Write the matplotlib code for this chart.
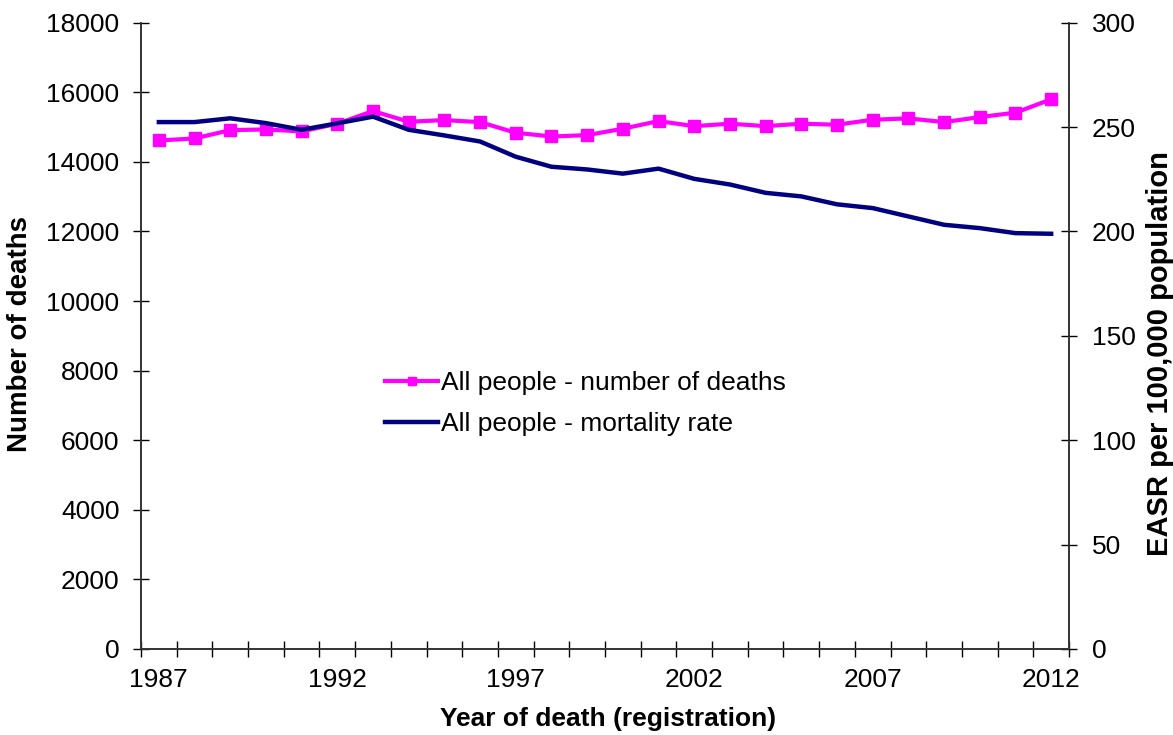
import numpy as np
import matplotlib
matplotlib.use('Agg')
import matplotlib.pyplot as plt
from matplotlib.ticker import MultipleLocator, FixedLocator

plt.rcParams['font.family'] = ['Liberation Sans', 'DejaVu Sans']

years = list(range(1987, 2013))
deaths = [14615, 14673, 14912, 14932, 14875, 15097, 15460, 15154, 15200, 15143,
          14837, 14730, 14768, 14953, 15172, 15027, 15097, 15027, 15097, 15068,
          15212, 15250, 15143, 15287, 15414, 15798]
rate = [252.4, 252.4, 254.2, 251.9, 248.7, 251.8, 255.0, 248.7, 246.0, 243.1,
        235.8, 231.0, 229.7, 227.7, 230.1, 225.2, 222.5, 218.5, 216.8, 213.0,
        211.2, 207.2, 203.2, 201.6, 199.2, 198.9]
year_labels = [1987, 1992, 1997, 2002, 2007, 2012]

magenta = '#FF00FF'
navy = '#000080'
fs = 19

fig = plt.figure(figsize=(11.73, 7.35), dpi=100)
ax = fig.add_axes([141/1173, 86/735, 928/1173, 626.3/735])
ax2 = ax.twinx()

l1, = ax.plot(years, deaths, '-s', color=magenta, lw=3, markersize=9,
              label='All people - number of deaths', zorder=3)
l2, = ax2.plot(years, rate, '-', color=navy, lw=3.2,
               label='All people - mortality rate', zorder=2)

ax.set_xlim(1986.5, 2012.5)
ax.set_ylim(0, 18000)
ax2.set_ylim(0, 300)
ax.yaxis.set_major_locator(MultipleLocator(2000))
ax2.yaxis.set_major_locator(MultipleLocator(50))

# year labels sit between the category tick marks
ax.xaxis.set_major_locator(FixedLocator(year_labels))
ax.xaxis.set_minor_locator(FixedLocator(np.arange(1986.5, 2013, 1)))
ax.tick_params(axis='x', which='major', length=0, labelsize=fs, pad=14)
ax.tick_params(axis='x', which='minor', direction='inout', length=12, width=1)
ax.tick_params(axis='y', direction='inout', length=11, width=1, labelsize=fs, pad=10)
ax2.tick_params(axis='y', direction='inout', length=11, width=1, labelsize=fs, pad=11)

for a in (ax, ax2):
    a.spines['top'].set_visible(False)
    for s in ('left', 'right', 'bottom'):
        a.spines[s].set_color('#333333')
        a.spines[s].set_linewidth(1.2)

ax.set_xlabel('Year of death (registration)', fontsize=fs, fontweight='bold')
ax.set_ylabel('Number of deaths', fontsize=20, fontweight='bold')
ax2.set_ylabel('EASR per 100,000 population', fontsize=21, fontweight='bold')
ax.xaxis.set_label_coords(0.503, -0.0926)
ax.yaxis.set_label_coords(-0.1164, 0.503)
ax2.yaxis.set_label_coords(1.083, 0.472)

ax2.legend(handles=[l1, l2], loc='upper left', bbox_to_anchor=(0.2377, 0.482),
           frameon=False, fontsize=fs, handlelength=2.0, handletextpad=0.12,
           labelspacing=0.66, markerscale=0.6)

fig.savefig('out.png', dpi=100)
